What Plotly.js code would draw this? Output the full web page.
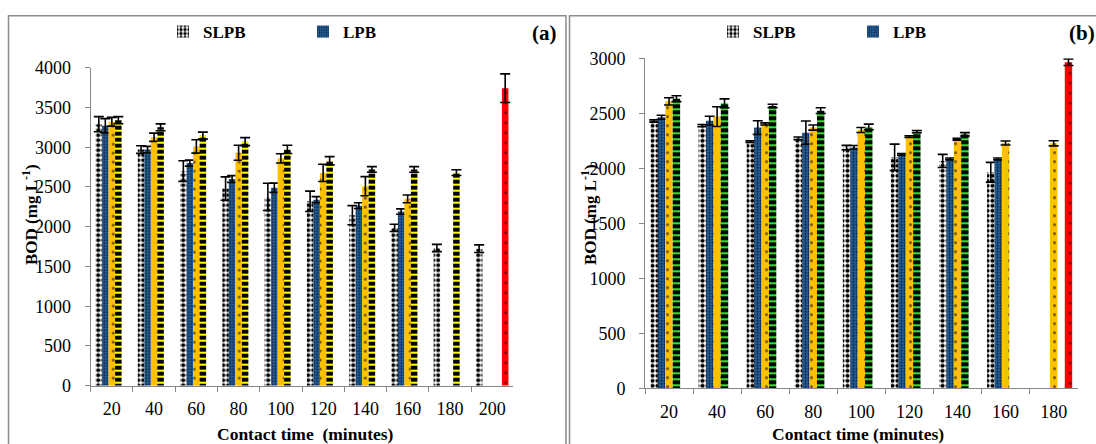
<!DOCTYPE html>
<html>
<head>
<meta charset="utf-8">
<script src="https://cdn.plot.ly/plotly-3.0.1.min.js"></script>
<style>
html,body{margin:0;padding:0;background:#fff;}
#chart{width:1096px;height:444px;}
</style>
</head>
<body>
<div id="chart"></div>
<script>
// ---------- Panel (a) data ----------
const catsA = ["20","40","60","80","100","120","140","160","180","200"];
const slpbA = [3290, 2970, 2700, 2480, 2375, 2320, 2145, 1985, 1732, 1724];
const slpbAErr = [95, 48, 130, 147, 172, 128, 120, 46, 46, 48];
const lpbA = [3270, 2970, 2800, 2600, 2490, 2340, 2265, 2190, null, null];
const lpbAErr = [90, 40, 38, 42, 58, 38, 36, 34, 0, 0];
const yelA = [3320, 3125, 3010, 2930, 2860, 2677, 2510, 2350, null, null];
const yelAErr = [55, 52, 84, 94, 58, 108, 120, 48, 0, 0];
const blkA = [3340, 3250, 3145, 3070, 2972, 2830, 2720, 2720, 2680, null];
const blkAErr = [45, 44, 44, 50, 52, 52, 36, 36, 36, 0];
const redA = [null, null, null, null, null, null, null, null, null, 3742];
const redAErr = [0, 0, 0, 0, 0, 0, 0, 0, 0, 180];

// ---------- Panel (b) data ----------
const catsB = ["20","40","60","80","100","120","140","160","180"];
const slpbB = [2430, 2388, 2242, 2273, 2188, 2100, 2067, 1964, null];
const slpbBErr = [10, 10, 8, 12, 20, 120, 60, 90, 0];
const lpbB = [2464, 2433, 2370, 2324, 2190, 2127, 2085, 2085, null];
const lpbBErr = [18, 40, 62, 106, 17, 8, 8, 8, 0];
const yelB = [2609, 2470, 2403, 2370, 2348, 2288, 2264, 2230, 2227];
const yelBErr = [33, 90, 10, 23, 23, 8, 8, 18, 23];
const grnB = [2633, 2591, 2567, 2524, 2376, 2333, 2309, null, null];
const grnBErr = [27, 40, 15, 26, 26, 10, 15, 0, 0];
const redB = [null, null, null, null, null, null, null, null, 2964];
const redBErr = [0, 0, 0, 0, 0, 0, 0, 0, 30];

const yTicksA = [0,500,1000,1500,2000,2500,3000,3500,4000];
const yTicksB = [0,500,1000,1500,2000,2500,3000];

const W = 1096, H = 444;
const px = v => v / W;
const py = v => 1 - v / H;

function err(arr){
  return {type:'data', array:arr, visible:true, color:'#000000', thickness:1.6, width:5};
}
const styles = {
  slpb: {color:'#ffffff', pattern:{shape:'.', fgcolor:'#000000', bgcolor:'#ffffff', size:5, solidity:0.55, fillmode:'replace'}},
  lpb:  {color:'#1f5a94', pattern:{shape:'.', fgcolor:'#0a1e33', bgcolor:'#2462a0', size:3, solidity:0.35, fillmode:'replace'}},
  yel:  {color:'#ffc000', pattern:{shape:'.', fgcolor:'#6b5200', bgcolor:'#ffc000', size:9, solidity:0.08, fillmode:'replace'}},
  blk:  {color:'#000000', pattern:{shape:'-', fgcolor:'#ffff00', bgcolor:'#000000', size:6, solidity:0.35, fillmode:'replace'}},
  grn:  {color:'#000000', pattern:{shape:'-', fgcolor:'#33dd33', bgcolor:'#000000', size:6, solidity:0.35, fillmode:'replace'}},
  red:  {color:'#ff0000', pattern:{shape:'.', fgcolor:'#600000', bgcolor:'#ff0000', size:10, solidity:0.06, fillmode:'replace'}}
};
function bar(name, x, y, e, st, xa, ya, legend, show){
  return {type:'bar', name:name, x:x, y:y, error_y:err(e),
    marker:{color:st.color, pattern:st.pattern, line:{width:0}},
    xaxis:xa, yaxis:ya, legend:legend, showlegend:show, hoverinfo:'x+y'};
}

const data = [
  bar('SLPB', catsA, slpbA, slpbAErr, styles.slpb, 'x', 'y', 'legend', true),
  bar('LPB', catsA, lpbA, lpbAErr, styles.lpb, 'x', 'y', 'legend', true),
  bar('S3', catsA, yelA, yelAErr, styles.yel, 'x', 'y', 'legend', false),
  bar('S4', catsA, blkA, blkAErr, styles.blk, 'x', 'y', 'legend', false),
  bar('Control', catsA, redA, redAErr, styles.red, 'x', 'y', 'legend', false),
  bar('SLPB', catsB, slpbB, slpbBErr, styles.slpb, 'x2', 'y2', 'legend2', true),
  bar('LPB', catsB, lpbB, lpbBErr, styles.lpb, 'x2', 'y2', 'legend2', true),
  bar('S3', catsB, yelB, yelBErr, styles.yel, 'x2', 'y2', 'legend2', false),
  bar('S4', catsB, grnB, grnBErr, styles.grn, 'x2', 'y2', 'legend2', false),
  bar('Control', catsB, redB, redBErr, styles.red, 'x2', 'y2', 'legend2', false)
];

const serif = '"Times New Roman", "Liberation Serif", "DejaVu Serif", serif';
const axisLine = '#868686';
function xAxis(domain, anchor, n){
  return {domain:domain, anchor:anchor, type:'category', range:[-0.5, n-0.5],
    showline:true, linecolor:axisLine, linewidth:1, ticks:'outside', tickson:'boundaries',
    ticklen:5, tickcolor:axisLine, showgrid:false, zeroline:false,
    tickfont:{family:serif, size:18, color:'#000'}, ticklabelstandoff:7, fixedrange:true};
}
function yAxis(domain, anchor, max, vals){
  return {domain:domain, anchor:anchor, range:[0,max], tickmode:'array', tickvals:vals,
    ticktext:vals.map(String), showline:true, linecolor:axisLine, linewidth:1,
    ticks:'outside', ticklen:5, tickcolor:axisLine, showgrid:false, zeroline:false,
    tickfont:{family:serif, size:18, color:'#000'}, ticklabelstandoff:10, fixedrange:true};
}

const layout = {
  width:W, height:H, margin:{l:0,r:0,t:0,b:0}, paper_bgcolor:'#fff', plot_bgcolor:'rgba(0,0,0,0)',
  font:{family:serif},
  barmode:'group', bargap:0.23, bargroupgap:0, showlegend:true,
  xaxis: xAxis([px(90.7), px(513.3)], 'y', catsA.length),
  yaxis: yAxis([py(385.7), py(67.7)], 'x', 4000, yTicksA),
  xaxis2: xAxis([px(645), px(1077.7)], 'y2', catsB.length),
  yaxis2: yAxis([py(388.3), py(58.3)], 'x2', 3000, yTicksB),
  legend:{orientation:'h', x:px(163), y:py(32), xanchor:'left', yanchor:'middle',
    font:{family:serif, size:17, color:'#000', weight:'bold'}, bgcolor:'rgba(0,0,0,0)',
    entrywidth:95, entrywidthmode:'pixels', itemwidth:30, tracegroupgap:0},
  legend2:{orientation:'h', x:px(713), y:py(32), xanchor:'left', yanchor:'middle',
    font:{family:serif, size:17, color:'#000', weight:'bold'}, bgcolor:'rgba(0,0,0,0)',
    entrywidth:95, entrywidthmode:'pixels', itemwidth:30, tracegroupgap:0},
  shapes:[
    {type:'rect', xref:'paper', yref:'paper', x0:px(8.5), x1:px(566), y0:py(460), y1:py(15.7),
      line:{color:'#8c8c8c', width:1.5}, fillcolor:'rgba(0,0,0,0)'},
    {type:'rect', xref:'paper', yref:'paper', x0:px(569.5), x1:px(1110), y0:py(460), y1:py(15.7),
      line:{color:'#8c8c8c', width:1.5}, fillcolor:'rgba(0,0,0,0)'}
  ],
  annotations:[
    {xref:'paper', yref:'paper', x:px(559), y:py(33), xanchor:'right', yanchor:'middle', showarrow:false,
      text:'<b>(a)</b>', font:{family:serif, size:21, color:'#000'}},
    {xref:'paper', yref:'paper', x:px(1097), y:py(33), xanchor:'right', yanchor:'middle', showarrow:false,
      text:'<b>(b)</b>', font:{family:serif, size:21, color:'#000'}},
    {xref:'paper', yref:'paper', x:px(305), y:py(434), xanchor:'center', yanchor:'middle', showarrow:false,
      text:'<b>Contact time \u00a0(minutes)</b>', font:{family:serif, size:17.5, color:'#000'}},
    {xref:'paper', yref:'paper', x:px(858), y:py(434), xanchor:'center', yanchor:'middle', showarrow:false,
      text:'<b>Contact time (minutes)</b>', font:{family:serif, size:17.5, color:'#000'}},
    {xref:'paper', yref:'paper', x:px(30), y:py(215), xanchor:'center', yanchor:'middle', showarrow:false,
      textangle:-90, text:'<b>BOD (mg L<sup>-1</sup>)</b>', font:{family:serif, size:17, color:'#000'}},
    {xref:'paper', yref:'paper', x:px(589), y:py(215), xanchor:'center', yanchor:'middle', showarrow:false,
      textangle:-90, text:'<b>BOD (mg L<sup>-1</sup>)</b>', font:{family:serif, size:17, color:'#000'}}
  ]
};

Plotly.newPlot('chart', data, layout, {displayModeBar:false, staticPlot:true});
</script>
</body>
</html>
